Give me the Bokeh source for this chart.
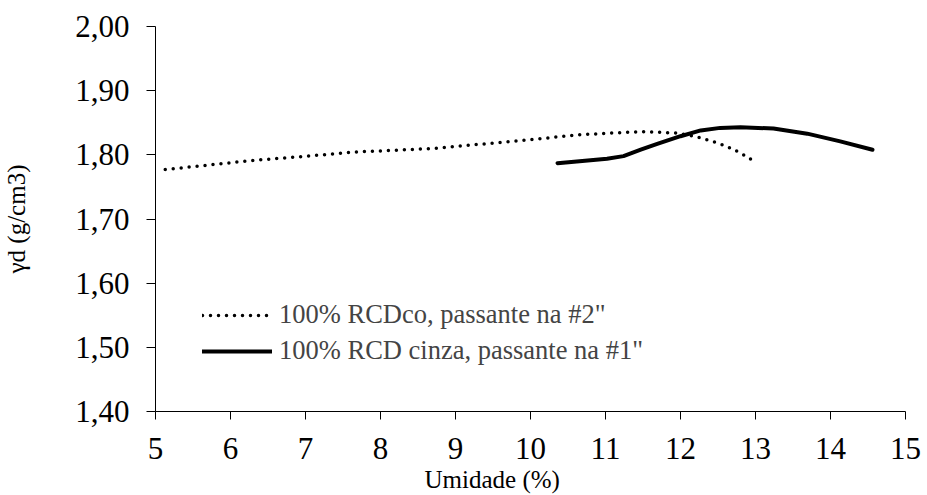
from bokeh.plotting import figure
from bokeh.models import Range1d, FixedTicker, Legend, LegendItem, Title
from bokeh.embed import file_html
from bokeh.resources import INLINE

# Data
x_rcdco = [5.13, 6.27, 7.13, 7.60, 8.71, 9.38, 10.20, 10.62, 11.07, 11.51, 11.96, 12.18, 12.40, 12.60, 12.80, 12.98]
y_rcdco = [1.777, 1.791, 1.799, 1.804, 1.810, 1.817, 1.826, 1.831, 1.834, 1.836, 1.834, 1.829, 1.822, 1.814, 1.803, 1.790]

x_cinza = [10.36, 11.02, 11.24, 11.47, 11.69, 12.00, 12.27, 12.53, 12.80, 13.24, 13.69, 14.13, 14.56]
y_cinza = [1.787, 1.794, 1.798, 1.808, 1.817, 1.829, 1.838, 1.842, 1.843, 1.841, 1.833, 1.821, 1.808]

series_names = ['100% RCDco, passante na #2"', '100% RCD cinza, passante na #1"']

x_ticks = [5, 6, 7, 8, 9, 10, 11, 12, 13, 14, 15]
y_ticks = [1.40, 1.50, 1.60, 1.70, 1.80, 1.90, 2.00]
y_tick_labels = ["1,40", "1,50", "1,60", "1,70", "1,80", "1,90", "2,00"]

x_title = "Umidade (%)"
y_title = "γd (g/cm3)"

FONT = "'Liberation Serif'"

p = figure(width=927, height=495, output_backend="svg", toolbar_location=None,
           x_range=Range1d(5, 15), y_range=Range1d(1.40, 2.00),
           min_border_left=155, min_border_right=22, min_border_top=26, min_border_bottom=84)
p.outline_line_color = None
p.xgrid.visible = False
p.ygrid.visible = False
p.background_fill_color = "white"
p.border_fill_color = "white"

p.xaxis.ticker = FixedTicker(ticks=x_ticks)
p.yaxis.ticker = FixedTicker(ticks=y_ticks)
p.yaxis.major_label_overrides = {t: l for t, l in zip(y_ticks, y_tick_labels)}

for ax in (p.xaxis, p.yaxis):
    ax.axis_line_color = "black"
    ax.axis_line_width = 1
    ax.major_tick_line_color = "black"
    ax.major_tick_in = 0
    ax.minor_tick_line_color = None
    ax.major_label_text_font = FONT
    ax.major_label_text_font_size = "31px"
    ax.major_label_text_color = "black"
p.xaxis.major_tick_out = 8
p.yaxis.major_tick_out = 9
p.xaxis.major_label_standoff = 18
p.yaxis.major_label_standoff = 17

p.yaxis.axis_label = y_title
p.yaxis.axis_label_text_font = FONT
p.yaxis.axis_label_text_font_size = "25px"
p.yaxis.axis_label_text_font_style = "normal"
p.yaxis.axis_label_text_color = "black"
p.yaxis.axis_label_standoff = 42

xt = Title(text=x_title, align="left", offset=269, standoff=5,
           text_font=FONT, text_font_size="25px", text_font_style="normal", text_color="black")
p.add_layout(xt, "below")

r1 = p.line(x_rcdco, y_rcdco, line_color="black", line_width=3.5, line_dash="0 8", line_cap="round")
r2 = p.line(x_cinza, y_cinza, line_color="black", line_width=4, line_cap="round", line_join="round")

legend = Legend(items=[LegendItem(label=series_names[0], renderers=[r1]),
                       LegendItem(label=series_names[1], renderers=[r2])],
                location=(47, 45), padding=0, margin=0, spacing=5,
                glyph_width=70, glyph_height=30, label_height=30, label_standoff=7,
                label_text_font=FONT, label_text_font_size="26.5px",
                border_line_color=None, background_fill_alpha=0)
p.add_layout(legend)

open("out.html", "w").write(file_html(p, INLINE))
